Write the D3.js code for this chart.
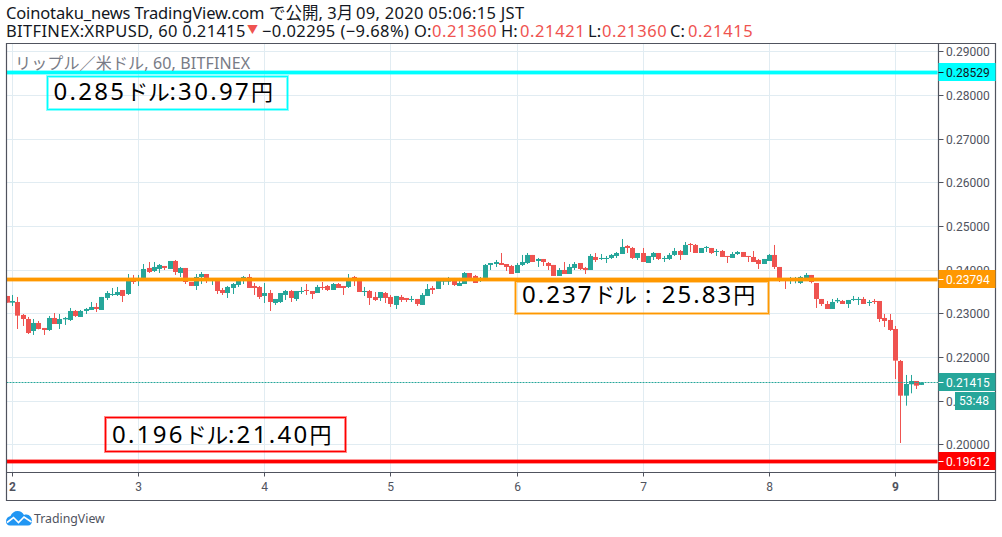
<!DOCTYPE html>
<html><head><meta charset="utf-8">
<script src="https://cdn.jsdelivr.net/npm/d3@7/dist/d3.min.js"></script>
<style>html,body{margin:0;padding:0;background:#fff}svg{display:block}</style></head>
<body><svg id="c" width="1002" height="537"></svg>
<script>
// Hourly candles, one entry per hour, starting one hour before day 2.
const firstHour = -1;
const opens = [.23397,.23244,.23259,.22962,.22870,.22595,.22778,.22664,.22618,.22893,
.22755,.22862,.22847,.23053,.22916,.23053,.23076,.23145,.23076,.23351,
.23420,.23420,.23534,.23442,.23809,.23740,.23809,.24038,.23969,.24015,
.24084,.24015,.24198,.23923,.24038,.23717,.23626,.23832,.23900,.23740,
.23740,.23534,.23465,.23580,.23649,.23786,.23832,.23626,.23603,.23397,
.23465,.23236,.23259,.23420,.23511,.23328,.23496,.23534,.23511,.23465,
.23603,.23626,.23534,.23671,.23626,.23603,.23832,.23740,.23496,.23511,
.23374,.23351,.23465,.23374,.23191,.23374,.23351,.23305,.23328,.23191,
.23397,.23580,.23557,.23725,.23725,.23740,.23626,.23671,.23923,.23855,
.23786,.23809,.24107,.24129,.24152,.24129,.24084,.23923,.24107,.24152,
.24336,.24198,.24244,.24152,.24107,.23855,.23992,.23900,.24038,.24152,
.24038,.23992,.24290,.24244,.24244,.24267,.24313,.24358,.24542,.24496,
.24267,.24381,.24152,.24290,.24381,.24244,.24244,.24336,.24427,.24336,
.24587,.24565,.24381,.24496,.24496,.24404,.24427,.24313,.24267,.24358,
.24404,.24313,.24290,.24221,.24129,.24198,.24336,.24061,.23786,.23763,
.23763,.23694,.23786,.23878,.23694,.23328,.23213,.23099,.23275,.23282,
.23213,.23305,.23305,.23328,.23236,.23282,.23282,.22893,.22847,.22641,
.21908,.21114,.21374,.21450,.21360];
const closes = [.23244,.23282,.22946,.22870,.22549,.22778,.22641,.22618,.22893,.22755,
.22870,.22893,.23053,.22939,.23053,.23099,.23145,.23099,.23374,.23465,
.23442,.23488,.23397,.23740,.23717,.23809,.24015,.23946,.24061,.24107,
.24038,.24198,.23946,.24038,.23717,.23626,.23832,.23900,.23740,.23763,
.23511,.23465,.23603,.23671,.23740,.23832,.23580,.23580,.23374,.23465,
.23259,.23328,.23465,.23511,.23351,.23511,.23511,.23511,.23442,.23603,
.23580,.23534,.23671,.23580,.23580,.23740,.23740,.23488,.23511,.23351,
.23305,.23488,.23351,.23213,.23397,.23305,.23305,.23328,.23213,.23420,
.23557,.23534,.23740,.23786,.23763,.23649,.23694,.23923,.23763,.23694,
.23809,.24107,.24152,.24175,.24107,.24061,.23900,.24107,.24175,.24336,
.24175,.24244,.24175,.24084,.23855,.23992,.23900,.24061,.24129,.24015,
.23992,.24313,.24221,.24267,.24267,.24336,.24381,.24519,.24496,.24267,
.24381,.24175,.24313,.24381,.24244,.24267,.24336,.24427,.24336,.24565,
.24565,.24381,.24496,.24519,.24381,.24427,.24290,.24290,.24358,.24404,
.24290,.24290,.24175,.24129,.24244,.24336,.24061,.23786,.23763,.23786,
.23786,.23832,.23878,.23717,.23328,.23213,.23099,.23259,.23305,.23213,
.23305,.23328,.23328,.23213,.23259,.23259,.22870,.22824,.22618,.21916,
.21114,.21381,.21450,.21343,.21415];
const highs = [.23397,.23420,.23374,.22984,.22916,.22870,.22824,.22664,.22939,.23007,
.22984,.22916,.23122,.23076,.23076,.23122,.23259,.23236,.23374,.23511,
.23580,.23603,.23534,.23900,.23878,.23878,.24129,.24175,.24175,.24129,
.24084,.24198,.24221,.24061,.24038,.23717,.23900,.23946,.23900,.23763,
.23740,.23580,.23626,.23694,.23809,.23855,.23900,.23694,.23626,.23694,
.23534,.23328,.23465,.23534,.23534,.23511,.23603,.23671,.23511,.23649,
.23717,.23649,.23694,.23694,.23626,.23900,.23855,.23740,.23603,.23534,
.23488,.23488,.23488,.23420,.23397,.23420,.23351,.23397,.23328,.23465,
.23671,.23626,.23809,.23809,.23832,.23809,.23809,.23946,.23923,.23878,
.23832,.24129,.24152,.24221,.24381,.24129,.24107,.24152,.24336,.24381,
.24336,.24267,.24244,.24175,.24107,.24038,.24175,.24129,.24175,.24152,
.24061,.24358,.24381,.24358,.24313,.24358,.24404,.24702,.24565,.24519,
.24381,.24496,.24313,.24404,.24381,.24313,.24381,.24496,.24450,.24633,
.24610,.24587,.24496,.24542,.24496,.24473,.24450,.24313,.24404,.24427,
.24404,.24313,.24427,.24244,.24244,.24358,.24565,.24061,.23786,.23832,
.23832,.23855,.23923,.23878,.23694,.23328,.23282,.23328,.23351,.23305,
.23305,.23397,.23374,.23374,.23305,.23328,.23282,.22984,.22984,.22710,
.21931,.21588,.21588,.21450,.21421];
const lows = [.23244,.23168,.22641,.22710,.22526,.22504,.22633,.22504,.22595,.22755,
.22641,.22733,.22824,.22916,.22916,.22984,.23076,.23030,.23076,.23305,
.23397,.23397,.23259,.23420,.23671,.23626,.23809,.23923,.23946,.23923,
.23992,.24015,.23878,.23832,.23671,.23626,.23534,.23671,.23694,.23649,
.23442,.23420,.23351,.23442,.23603,.23671,.23580,.23420,.23328,.23236,
.23053,.23191,.23236,.23305,.23259,.23282,.23442,.23420,.23328,.23465,
.23534,.23511,.23534,.23580,.23420,.23580,.23626,.23488,.23397,.23191,
.23282,.23282,.23236,.23145,.23099,.23259,.23259,.23259,.23168,.23191,
.23397,.23442,.23557,.23649,.23649,.23626,.23626,.23671,.23763,.23694,
.23717,.23809,.23992,.24061,.24107,.23969,.23900,.23923,.24084,.24129,
.24175,.24061,.24084,.23992,.23855,.23855,.23900,.23900,.23992,.23992,
.23900,.23992,.24175,.24221,.24152,.24244,.24267,.24358,.24381,.24244,
.24221,.24175,.24152,.24221,.24221,.24175,.24221,.24313,.24221,.24336,
.24404,.24381,.24381,.24404,.24358,.24313,.24290,.24152,.24267,.24336,
.24290,.24175,.24175,.24015,.24129,.24198,.24015,.23717,.23557,.23671,
.23687,.23671,.23763,.23687,.23122,.23168,.23099,.23099,.23236,.23213,
.23122,.23282,.23191,.23213,.23168,.23213,.22801,.22687,.22595,.21496,
.20030,.20885,.21168,.21267,.21360];

const dayLabels = ["2","3","4","5","6","7","8","9"];
const dayHours = [0,24,48,72,96,120,144,168];
const priceTicks = [.29,.28,.27,.26,.25,.24,.23,.22,.21,.20];
const lastPrice = .21415;
const countdown = "53:48";
const levels = [.28529,.23794,.19612];
const levelColors = ["#00ffff","#ff9800","#ff0000"];
const levelTexts = ["0.285ドル:30.97円","0.237ドル : 25.83円","0.196ドル:21.40円"];
const titleParts = ["Coinotaku_news TradingView.com","で公開, 3月","09, 2020 05:06:15 JST"];
const quoteParts = ["BITFINEX:XRPUSD, 60 0.21415","▼","−0.02295 (−9.68%)","O:","0.21360","H:","0.21421","L:","0.21360","C:","0.21415"];
const seriesName = "リップル／米ドル, 60, BITFINEX";

const UP="#26a69a", DOWN="#ef5350", INK="#50535e", GRID="#e1ecf2";
const FONT="'Noto Sans','Noto Sans CJK JP',sans-serif";
const AXF="Roboto,'Noto Sans',sans-serif";
const L=6.5,R=938.5,T=43.5,B=472.5,RO=995.5,BO=500.5;
const x=d3.scaleLinear().domain([0,168]).range([12,895]);
const y=d3.scaleLinear().domain([.23,.20]).range([313.3,444.3]);
const svg=d3.select("#c").style("font-family",FONT);

svg.append("defs").append("clipPath").attr("id","plot").append("rect")
  .attr("x",L).attr("y",T).attr("width",R-L).attr("height",B-T);

// grid
const grid=svg.append("g").attr("stroke",GRID).attr("stroke-width",1);
grid.selectAll("line.h").data(priceTicks).join("line")
  .attr("x1",L).attr("x2",R).attr("y1",d=>Math.round(y(d))+.5).attr("y2",d=>Math.round(y(d))+.5);
grid.selectAll("line.v").data(dayHours).join("line").attr("class","v")
  .attr("y1",T).attr("y2",B).attr("x1",d=>Math.round(x(d))+.5).attr("x2",d=>Math.round(x(d))+.5);

// candles
const candles=opens.map((o,i)=>({h:firstHour+i,o,c:closes[i],hi:highs[i],lo:lows[i]}));
const col=d=>d.c>=d.o?UP:DOWN;
const cg=svg.append("g").attr("clip-path","url(#plot)");
cg.selectAll("rect.w").data(candles).join("rect").attr("class","w")
  .attr("x",d=>Math.round(x(d.h))).attr("width",1)
  .attr("y",d=>y(d.hi)).attr("height",d=>y(d.lo)-y(d.hi)).attr("fill",col);
cg.selectAll("rect.b").data(candles).join("rect").attr("class","b")
  .attr("x",d=>Math.round(x(d.h))-2).attr("width",5)
  .attr("y",d=>y(Math.max(d.o,d.c))).attr("height",d=>Math.max(1,Math.abs(y(d.o)-y(d.c)))).attr("fill",col);

// last price line
const lastY=Math.floor(y(lastPrice))+.5;
svg.append("line").attr("x1",L).attr("x2",R).attr("y1",lastY).attr("y2",lastY)
  .attr("stroke",UP).attr("stroke-width",1).attr("stroke-dasharray","2 1");

// level lines
levels.forEach((v,i)=>{
  const yy=Math.round(y(v))+.5;
  svg.append("line").attr("x1",L).attr("x2",R-1).attr("y1",yy).attr("y2",yy).attr("stroke",levelColors[i]).attr("stroke-opacity",.4).attr("stroke-width",5);
  svg.append("line").attr("x1",L).attr("x2",R-1).attr("y1",yy).attr("y2",yy).attr("stroke",levelColors[i]).attr("stroke-width",3);
});

// annotation boxes: latin runs are spaced out, kana and kanji set tighter
const boxes=[[47.5,76.5,240,33,53.5,99.5,2.3],[515.5,281.5,253,32,522,303,2.05],[105.5,417.5,240,34,112,442.5,2.3]];
boxes.forEach((b,i)=>{
  svg.append("rect").attr("x",b[0]).attr("y",b[1]).attr("width",b[2]).attr("height",b[3]).attr("fill","none").attr("stroke",levelColors[i]).attr("stroke-opacity",.45).attr("stroke-width",3);
  svg.append("rect").attr("x",b[0]).attr("y",b[1]).attr("width",b[2]).attr("height",b[3]).attr("fill","none").attr("stroke",levelColors[i]).attr("stroke-width",1);
  const t=svg.append("text").attr("x",b[4]).attr("y",b[5]).attr("font-size",24).attr("fill","#000").attr("xml:space","preserve").style("white-space","pre");
  levelTexts[i].split(/([ドル円]+)/).filter(s=>s).forEach(s=>{
    const cjk=/[ドル円]/.test(s);
    t.append("tspan").attr("font-size",cjk?22:24).attr("letter-spacing",cjk?-.5:b[6]).text(s);
  });
});

// frame
svg.append("path").attr("d",`M${L} ${T}H${RO}V${BO}H${L}Z M${R} ${T}V${BO} M${L} ${B}H${RO}`)
  .attr("fill","none").attr("stroke",INK).attr("stroke-width",1.2);

// axes
const yAxis=svg.append("g").attr("font-family",AXF).attr("font-size",12).attr("fill",INK);
priceTicks.forEach(v=>{
  const yy=Math.round(y(v))+.5;
  yAxis.append("line").attr("x1",R).attr("x2",R+5).attr("y1",yy).attr("y2",yy).attr("stroke",INK);
  yAxis.append("text").attr("x",946).attr("y",yy+4).text(d3.format(".5f")(v));
});
const xAxis=svg.append("g").attr("font-family",AXF).attr("font-size",12).attr("fill",INK).attr("text-anchor","middle");
dayHours.forEach((h,i)=>{
  const xx=Math.round(x(h))+.5;
  xAxis.append("line").attr("x1",xx).attr("x2",xx).attr("y1",B).attr("y2",B+4).attr("stroke",INK);
  xAxis.append("text").attr("x",xx).attr("y",491).attr("font-weight",(i==0||i==7)?"700":"400").text(dayLabels[i]);
});

// price labels
const tags=[[levels[0],levelColors[0],"#131722",Math.round(y(levels[0]))+.5],[levels[1],levelColors[1],"#fff",Math.round(y(levels[1]))+.5],[levels[2],levelColors[2],"#fff",Math.round(y(levels[2]))+.5],[lastPrice,UP,"#fff",lastY]];
tags.forEach(t=>{
  const yy=t[3];
  svg.append("rect").attr("x",R).attr("y",yy-9.5).attr("width",RO-R).attr("height",18).attr("fill",t[1]);
  svg.append("line").attr("x1",R).attr("x2",R+5).attr("y1",yy).attr("y2",yy).attr("stroke",t[2]).attr("stroke-width",1);
  svg.append("text").attr("x",946).attr("y",yy+4).attr("font-family",AXF).attr("font-size",12).attr("fill",t[2]).text(d3.format(".5f")(t[0]));
});
svg.append("rect").attr("x",955).attr("y",lastY+9.5).attr("width",RO-955).attr("height",18).attr("fill",UP);
svg.append("text").attr("x",959).attr("y",lastY+22.5).attr("font-family",AXF).attr("font-size",12).attr("fill","#fff").text(countdown);

// header
const titleX=[6,269,356], titleLs=[-.15,0,.3];
const ttl=svg.append("text").attr("y",19).attr("font-size",16.5).attr("fill","#131722");
titleParts.forEach((s,i)=>ttl.append("tspan").attr("x",titleX[i]).attr("letter-spacing",titleLs[i]).text(s));
const quoteX=[6,247,262,414,432,501,520,588,602,670,688];
const quoteLs=[.33,0,.4,0,.6,0,.6,0,.6,0,.6];
const head=svg.append("text").attr("y",37).attr("font-size",16.5).attr("fill","#131722");
quoteParts.forEach((s,i)=>{
  const t=head.append("tspan").attr("x",quoteX[i]).attr("letter-spacing",quoteLs[i]).text(s);
  if(i==1) t.attr("fill",DOWN).attr("font-size",11).attr("dy",-3);
  if(i==2) t.attr("dy",3);
  if(i>=4&&i%2==0) t.attr("fill",DOWN);
});
svg.append("text").attr("x",15).attr("y",69).attr("font-size",16).attr("letter-spacing",.15).attr("fill","#787b86").text(seriesName);

// logo
svg.append("path").attr("d","M6 521.5c0-3 2-5 4.5-5.5 1-3 4-5 7-5 3 0 5 1.5 6.5 4 .8-.3 1.6-.4 2.5-.4 3 0 5.500 3 5.500 6.400 0 2.700-1.500 4.500-4 4.500H10c-2.500 0-4-1.800-4-4z").attr("fill","#2196f3");
svg.append("path").attr("d","M7 522.500l6.500-5 5 5 5.500-5.500 7.500 5").attr("fill","none").attr("stroke","#fff").attr("stroke-width",1.6);
svg.append("text").attr("x",34).attr("y",523).attr("font-size",12.3).attr("fill",INK).text("TradingView");
</script></body></html>
